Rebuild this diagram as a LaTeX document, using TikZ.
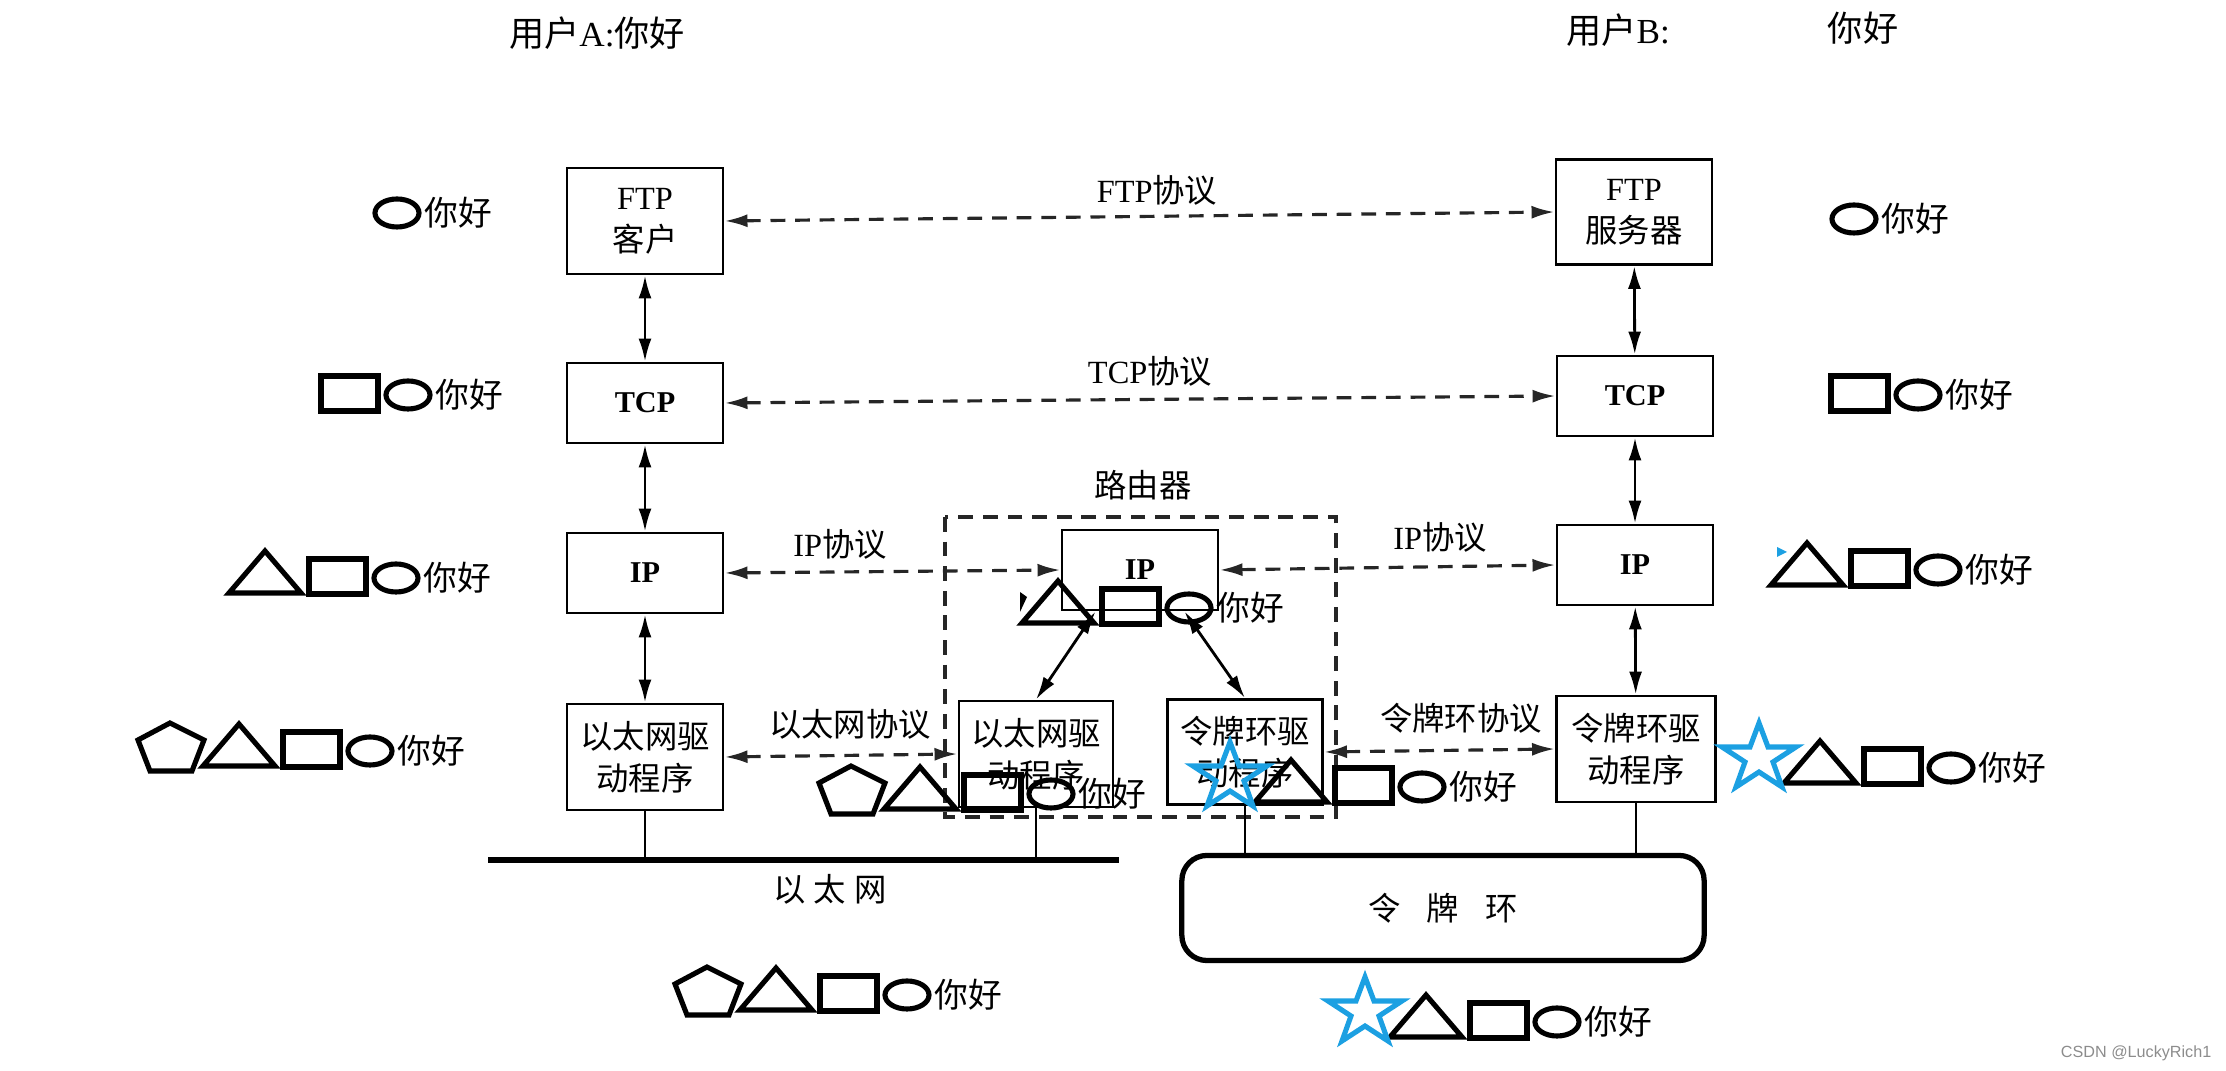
\documentclass[tikz,border=0pt]{standalone}
\usepackage{fontspec}
\setmainfont{Liberation Serif}
\newfontfamily\cjk{Noto Sans CJK SC}
\newfontfamily\wmark{Liberation Sans}
\newcommand{\zh}[1]{{\cjk #1}}
\usetikzlibrary{arrows.meta, positioning}
\definecolor{starblue}{RGB}{28,160,226}
\tikzset{
  layer/.style={draw, line width=0.8pt, minimum width=1.56cm, inner sep=1pt, align=center, font=\fontsize{9.2}{12}\selectfont},
  bold/.style={font=\fontsize{8.6}{10}\selectfont\bfseries},
  link/.style={{Latex[length=2.3mm,width=1.3mm]}-{Latex[length=2.3mm,width=1.3mm]}, line width=0.8pt},
  proto/.style={link, dash pattern=on 4.2pt off 2.8pt, line width=0.9pt, black!85},
  lbl/.style={font=\fontsize{9.2}{11}\selectfont, inner sep=0pt},
  tag/.style={line width=1.45pt},
  startag/.style={tag, draw=starblue},
  hello/.style={font=\fontsize{9.6}{11}\selectfont\cjk, inner sep=0pt, anchor=west},
}

\begin{document}
\begin{tikzpicture}[x=0.01cm, y=-0.01cm]
\useasboundingbox (0,0) rectangle (2226,1071);

% users
\node[lbl, font=\fontsize{10}{12}\selectfont] (usera) at (597,33) {\zh{用户}A:\zh{你好}};
\node[lbl, font=\fontsize{10}{12}\selectfont] (userb) at (1618,30) {\zh{用户}B:};
\node[lbl, font=\fontsize{10}{12}\selectfont] (userbhi) at (1863,28) {\zh{你好}};

% host A
\node[layer, minimum height=1.06cm] (ftpc) at (645,221) {FTP\\\zh{客户}};
\node[layer, bold, minimum height=0.8cm] (tcpa) at (645,403) {TCP};
\node[layer, bold, minimum height=0.8cm] (ipa) at (645,573) {IP};
\node[layer, minimum height=1.06cm] (etha) at (645,757) {\zh{以太网驱}\\\zh{动程序}};

% host B
\node[layer, minimum height=1.05cm] (ftps) at (1634,212) {FTP\\\zh{服务器}};
\node[layer, bold, minimum height=0.8cm] (tcpb) at (1635,396) {TCP};
\node[layer, bold, minimum height=0.8cm] (ipb) at (1635,565) {IP};
\node[layer, minimum width=1.59cm, minimum height=1.06cm] (tokb) at (1636,749) {\zh{令牌环驱}\\\zh{动程序}};

% router
\draw[dash pattern=on 4.2pt off 2.8pt, line width=0.9pt, black!85] (945,517) rectangle (1336,817);
\node[lbl] (rlabel) at (1143,485) {\zh{路由器}};
\node[layer, bold, minimum height=0.8cm] (rip) at (1140,570) {IP};
\node[layer, minimum width=1.54cm, minimum height=1.06cm] (reth) at (1036,754) {\zh{以太网驱}\\\zh{动程序}};
\node[layer, minimum width=1.55cm, minimum height=1.05cm] (rtok) at (1245,752) {\zh{令牌环驱}\\\zh{动程序}};

% networks
\coordinate (busl) at (488,860);
\coordinate (busr) at (1119,860);
\draw[line width=1.5pt] (busl) -- (busr);
\node[lbl] (buslabel) at (830,889) {\zh{以\hspace{0.25em}太\hspace{0.25em}网}};
\node[draw, line width=1.5pt, rounded corners=0.25cm, minimum width=5.22cm, minimum height=1.05cm, lbl] (ring) at (1443,908) {\zh{令\hspace{0.8em}牌\hspace{0.8em}环}};
\draw[line width=0.8pt] (etha.south) -- (etha.south |- busl);
\draw[line width=0.8pt] (reth.south) -- (reth.south |- busl);
\draw[line width=0.8pt] (rtok.south) -- (rtok.south |- ring.north);
\draw[line width=0.8pt] (tokb.south) -- (tokb.south |- ring.north);

% stacks
\draw[link] (ftpc) -- (tcpa);
\draw[link] (tcpa) -- (ipa);
\draw[link] (ipa) -- (etha);
\draw[link] (ftps) -- (tcpb);
\draw[link] (tcpb) -- (ipb);
\draw[link] (ipb) -- (tokb);
\draw[link] (rip.-137) -- (reth.north);
\draw[link] (rip.-43) -- (rtok.north);

% peer protocols
\draw[proto] (ftpc.east) -- (ftps.west);
\draw[proto] (tcpa.east) -- (tcpb.west);
\draw[proto] (ipa.east) -- (rip.west);
\draw[proto] (rip.east) -- (ipb.west);
\draw[proto] (etha.east) -- (reth.west);
\draw[proto] (rtok.east) -- (tokb.west);
\node[lbl] (ftpl) at (1157,190) {FTP\zh{协议}};
\node[lbl] (tcpl) at (1150,371) {TCP\zh{协议}};
\node[lbl] (ipla) at (840,544) {IP\zh{协议}};
\node[lbl] (iplb) at (1440,537) {IP\zh{协议}};
\node[lbl] (ethl) at (850,724) {\zh{以太网协议}};
\node[lbl] (tokl) at (1461,718) {\zh{令牌环协议}};

% headers: ellipse + text
\foreach \cx/\cy [count=\n] in {397/213,408/395,396/578,370/751,1854/219,1918/395,1938/570,1951/768,1189/608,1051/794,1422/787,907/995,1557/1022}{
  \begin{scope}[shift={(\cx,\cy)}]
    \draw[tag] (0,0) ellipse (0.22cm and 0.14cm);
    \node[hello] (hi\n) at (27,0) {你好};
  \end{scope}
}
% square
\foreach \cx/\cy in {408/395,396/578,370/751,1918/395,1938/570,1951/768,1189/608,1051/794,1422/787,907/995,1557/1022}{
  \draw[tag, shift={(\cx,\cy)}] (-87,-19) rectangle (-30,16);
}
% triangle
\foreach \cx/\cy in {396/578,370/751,1938/570,1951/768,1189/608,1051/794,1422/787,907/995,1557/1022}{
  \draw[tag, shift={(\cx,\cy)}] (-167,15) -- (-131,-27) -- (-95,15) -- cycle;
}
% pentagon
\foreach \cx/\cy in {370/751,1051/794,907/995}{
  \draw[tag, shift={(\cx,\cy)}] (-200,-28) -- (-166,-11) -- (-178,20) -- (-220,20) -- (-232,-11) -- cycle;
}
% star
\foreach \cx/\cy in {1951/768,1422/787,1557/1022}{
  \draw[startag, shift={(\cx,\cy)}] (-192,-45) -- (-183,-21) -- (-155,-21) -- (-178,-6) -- (-169,19)
    -- (-192,4) -- (-215,19) -- (-206,-6) -- (-229,-21) -- (-201,-21) -- cycle;
}
\fill[starblue] (1777,547) -- (1787,552) -- (1777,557) -- cycle;
\fill (1020,592) -- (1027,597) -- (1020,612) -- cycle;

\node[font=\fontsize{4.6}{5}\selectfont\wmark, text=black!45, anchor=east, inner sep=0pt] (wm) at (2212,1053) {CSDN @LuckyRich1};
\end{tikzpicture}
\end{document}
